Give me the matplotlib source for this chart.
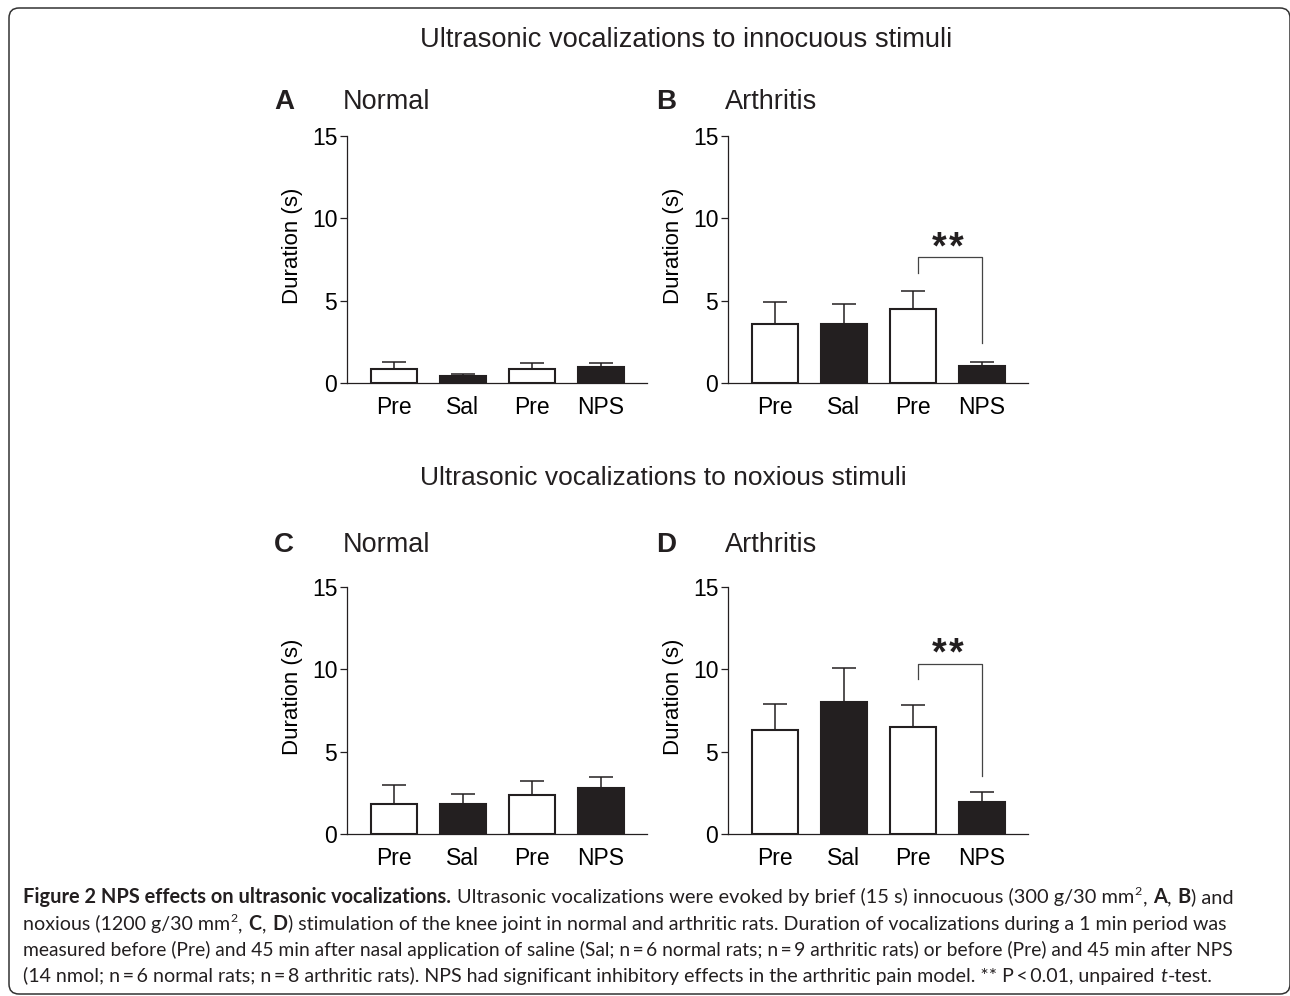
import matplotlib
matplotlib.use('Agg')
import matplotlib.pyplot as plt
from matplotlib.patches import FancyBboxPatch
from matplotlib.transforms import IdentityTransform

# ---------------- data ----------------
groups = ['Pre', 'Sal', 'Pre', 'NPS']

A_mean = [0.83, 0.42, 0.83, 0.97]
A_sem = [0.46, 0.11, 0.40, 0.24]

B_mean = [3.60, 3.56, 4.52, 1.03]
B_sem = [1.32, 1.26, 1.05, 0.26]

C_mean = [1.82, 1.84, 2.37, 2.77]
C_sem = [1.13, 0.57, 0.87, 0.67]

D_mean = [6.29, 8.01, 6.49, 1.93]
D_sem = [1.62, 2.09, 1.36, 0.62]

# significance brackets: (left x, right x, top y, left drop, right drop, label)
B_sig = (2.08, 3.0, 7.64, 6.70, 2.41, '**')
D_sig = (2.08, 3.0, 10.34, 9.39, 3.55, '**')

W, H = 1290, 996
DARK = '#231f20'
FONT = 'Liberation Sans'
CAP_FONT = 'Lato'

plt.rcParams['font.family'] = [FONT, 'DejaVu Sans']

fig = plt.figure(figsize=(W / 100, H / 100), dpi=100)


def bar_panel(rect, means, sems, sig=None):
    ax = fig.add_axes(rect)
    x = list(range(len(groups)))
    fills = ['white', DARK, 'white', DARK]
    ax.errorbar(x, means, yerr=[[0] * len(sems), sems], fmt='none',
                ecolor=DARK, elinewidth=1.1, capsize=8.5, capthick=1.1, zorder=2)
    ax.bar(x, means, width=0.67, color=fills, edgecolor=DARK, linewidth=1.5, zorder=3)
    ax.set_xlim(-0.68, 3.67)
    ax.set_ylim(0, 15)
    ax.set_yticks([0, 5, 10, 15])
    ax.set_xticks(x)
    ax.set_xticklabels(groups)
    for s in ['top', 'right']:
        ax.spines[s].set_visible(False)
    for s in ['left', 'bottom']:
        ax.spines[s].set_linewidth(0.9)
        ax.spines[s].set_color(DARK)
    ax.spines['left'].set_bounds(0, 15)
    ax.tick_params(axis='y', length=5, width=0.9, color=DARK, pad=2, labelsize=16.5)
    ax.tick_params(axis='x', length=0, pad=9, labelsize=16.5)
    ax.set_ylabel('Duration (s)', fontsize=16, va='center')
    ax.yaxis.set_label_coords(-0.183, 0.555)
    if sig is not None:
        x0, x1, top, d0, d1, lab = sig
        ax.plot([x0, x0, x1, x1], [d0, top, top, d1], color='#444444', lw=0.9,
                clip_on=False, zorder=4)
        mid = (x0 + x1) / 2 - 0.03
        n = len(lab)
        for k, ch in enumerate(lab):
            ax.text(mid + (k - (n - 1) / 2) * 0.25, top - 0.55, ch, ha='center',
                    va='bottom', fontsize=27, fontweight='bold', color=DARK)
    ax.set_facecolor('none')
    return ax


top_bottom = 1 - 383 / H
low_bottom = 1 - 834 / H
ph = 247 / H
pw = 300 / W

bar_panel([347 / W, top_bottom, pw, ph], A_mean, A_sem)
bar_panel([728 / W, top_bottom, pw, ph], B_mean, B_sem, B_sig)
bar_panel([347 / W, low_bottom, pw, ph], C_mean, C_sem)
bar_panel([728 / W, low_bottom, pw, ph], D_mean, D_sem, D_sig)

# section titles
fig.text(420 / W, 1 - 40 / H, 'Ultrasonic vocalizations to innocuous stimuli',
         ha='left', va='center', fontsize=19.6, color=DARK)
fig.text(420 / W, 1 - 478 / H, 'Ultrasonic vocalizations to noxious stimuli',
         ha='left', va='center', fontsize=19.0, color=DARK)

# panel letters and headings
for letter, lx, name, nx, ly in [('A', 274, 'Normal', 343, 102),
                                 ('B', 656, 'Arthritis', 725, 102),
                                 ('C', 274, 'Normal', 343, 545),
                                 ('D', 656, 'Arthritis', 725, 545)]:
    fig.text(lx / W, 1 - ly / H, letter, ha='left', va='center', fontsize=20,
             fontweight='bold', color=DARK)
    fig.text(nx / W, 1 - ly / H, name, ha='left', va='center', fontsize=19.5, color=DARK)

# rounded frame
frame = FancyBboxPatch((9, 2), 1281, 986, boxstyle='round,pad=0,rounding_size=10',
                       transform=IdentityTransform(), fill=False,
                       edgecolor='#333333', linewidth=1.1)
fig.add_artist(frame)

# ---------------- caption ----------------
caption = [
    [('Figure 2 NPS effects on ultrasonic vocalizations.', 'b'),
     (' Ultrasonic vocalizations were evoked by brief (15 s) innocuous (300 g/30 mm', 'n'),
     ('2', 'sup'), (', ', 'n'), ('A', 'b'), (', ', 'n'), ('B', 'b'), (') and', 'n')],
    [('noxious (1200 g/30 mm', 'n'), ('2', 'sup'), (', ', 'n'), ('C', 'b'), (', ', 'n'),
     ('D', 'b'),
     (') stimulation of the knee joint in normal and arthritic rats. Duration of vocalizations during a 1 min period was', 'n')],
    [('measured before (Pre) and 45 min after nasal application of saline (Sal; n\u2009=\u20096 normal rats; n\u2009=\u20099 arthritic rats) or before (Pre) and 45 min after NPS', 'n')],
    [('(14 nmol; n\u2009=\u20096 normal rats; n\u2009=\u20098 arthritic rats). NPS had significant inhibitory effects in the arthritic pain model. ** P\u2009<\u20090.01, unpaired ', 'n'),
     ('t', 'i'), ('-test.', 'n')],
]
baselines = [903, 930, 956, 982]
line_ends = [1237, 1232, 1234, 1212]
cap_left = 23

renderer = fig.canvas.get_renderer()


def space_width(size):
    t1 = fig.text(0, 0, 'a a', fontsize=size, family=[CAP_FONT, 'DejaVu Sans'],
                  transform=IdentityTransform())
    t2 = fig.text(0, 0, 'aa', fontsize=size, family=[CAP_FONT, 'DejaVu Sans'],
                  transform=IdentityTransform())
    w = t1.get_window_extent(renderer).width - t2.get_window_extent(renderer).width
    t1.remove()
    t2.remove()
    return w


def draw_line(segs, x, ybase, size):
    sp = space_width(size)
    arts = []
    for txt, kind in segs:
        lead = len(txt) - len(txt.lstrip(' '))
        trail = len(txt) - len(txt.rstrip(' '))
        core = txt.strip(' ')
        x += lead * sp
        kw = dict(fontsize=size, family=[CAP_FONT, 'DejaVu Sans'], color=DARK)
        y = H - ybase
        if kind == 'b':
            kw['fontweight'] = 'bold'
        elif kind == 'i':
            kw['fontstyle'] = 'italic'
        elif kind == 'sup':
            kw['fontsize'] = size * 0.62
            y = H - ybase + size * 0.42 * 100 / 72
        t = fig.text(x, y, core, ha='left', va='baseline',
                     transform=IdentityTransform(), **kw)
        arts.append(t)
        x = t.get_window_extent(renderer).x1 + 0.6 + trail * sp
    return x, arts


for segs, yb, xe in zip(caption, baselines, line_ends):
    x_end, tmp = draw_line(segs, cap_left, yb, 10)
    for t in tmp:
        t.remove()
    size = 10 * (xe - cap_left) / (x_end - cap_left)
    draw_line(segs, cap_left, yb, size)

fig.savefig('out.png', dpi=100)
